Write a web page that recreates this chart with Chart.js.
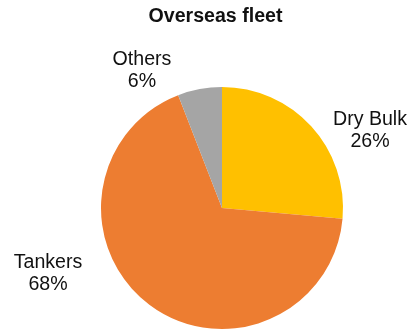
<!DOCTYPE html>
<html>
<head>
<meta charset="utf-8">
<script src="https://cdn.jsdelivr.net/npm/chart.js@4/dist/chart.umd.min.js"></script>
<style>
html,body{margin:0;padding:0;background:#fff;}
#wrap{width:409px;height:331px;position:relative;}
</style>
</head>
<body>
<div id="wrap"><canvas id="c" width="409" height="331"></canvas></div>
<script>
const chartTitle = "Overseas fleet";
const categories = ["Dry Bulk", "Tankers", "Others"];
const shares = [26.4, 67.7, 5.9];
const colors = ["#FFC000", "#ED7D31", "#A5A5A5"];

// label anchor positions (center x, first baseline y)
const labelPos = {
  "Dry Bulk": [370, 125],
  "Tankers": [48, 268],
  "Others": [142, 65]
};

const textPlugin = {
  id: 'texts',
  afterDraw(chart) {
    const ctx = chart.ctx;
    ctx.save();
    ctx.fillStyle = "#111";
    ctx.textAlign = "center";
    ctx.textBaseline = "alphabetic";
    ctx.font = "bold 19.6px 'Liberation Sans', Arial, sans-serif";
    ctx.fillText(chartTitle, 215.5, 22);
    ctx.font = "19.6px 'Liberation Sans', Arial, sans-serif";
    categories.forEach((cat, i) => {
      const p = labelPos[cat];
      ctx.fillText(cat, p[0], p[1]);
      ctx.fillText(Math.round(shares[i]) + "%", p[0], p[1] + 22);
    });
    ctx.restore();
  }
};

new Chart(document.getElementById('c'), {
  type: 'pie',
  data: {
    labels: categories,
    datasets: [{
      data: shares,
      backgroundColor: colors,
      borderWidth: 0,
      hoverOffset: 0
    }]
  },
  options: {
    responsive: false,
    animation: false,
    layout: { padding: { left: 101, right: 66, top: 87, bottom: 2 } },
    plugins: {
      legend: { display: false },
      title: { display: false },
      tooltip: { enabled: false }
    }
  },
  plugins: [textPlugin]
});
</script>
</body>
</html>
